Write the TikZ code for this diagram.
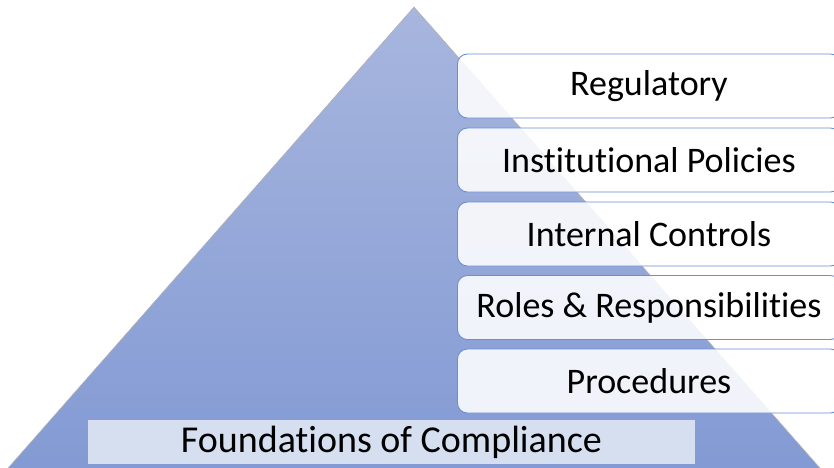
\documentclass[tikz,border=0pt]{standalone}
\usepackage{fontspec}
\setmainfont{Carlito}[Ligatures={NoCommon}]
\usepackage{xcolor}
\usepackage{tikz}
\usetikzlibrary{positioning,calc}

\definecolor{pyrtop}{RGB}{168,182,222}
\definecolor{pyrbot}{RGB}{128,152,211}
\definecolor{boxline}{RGB}{108,142,210}
\definecolor{basefill}{RGB}{214,223,240}

\begin{document}
\begin{tikzpicture}[x=1pt,y=-1pt,
                level/.style={rectangle,rounded corners=10pt,draw=boxline,line width=0.9pt,
                    fill=white,fill opacity=0.88,text opacity=1,anchor=west,
                    minimum width=383pt,minimum height=64pt,
                    font=\fontsize{36}{40}\selectfont},
                base/.style={rectangle,fill=basefill,minimum width=607pt,minimum height=44pt,
                    font=\fontsize{38}{42}\selectfont}]
\clip (0,0) rectangle (834,467);
%Pyramid
    \coordinate (apex) at (414,7);
    \coordinate (bl) at (-20,500);
    \coordinate (br) at (848,500);
    \shade[top color=pyrtop,bottom color=pyrbot,draw=gray!60,line width=0.6pt]
        (apex) -- (br) -- (bl) -- cycle;
%Nodes
    \node[base] (found) at (391.5,442) {Foundations of Compliance};
    \node[level] (reg) at (457,86) {Regulatory};
    \node[level] (inst) at (457,160) {Institutional Policies};
    \node[level] (ctrl) at (457,234) {Internal Controls};
    \node[level] (roles) at (457,307.5) {Roles \& Responsibilities};
    \node[level] (proc) at (457,381) {Procedures};
\end{tikzpicture}
\end{document}
